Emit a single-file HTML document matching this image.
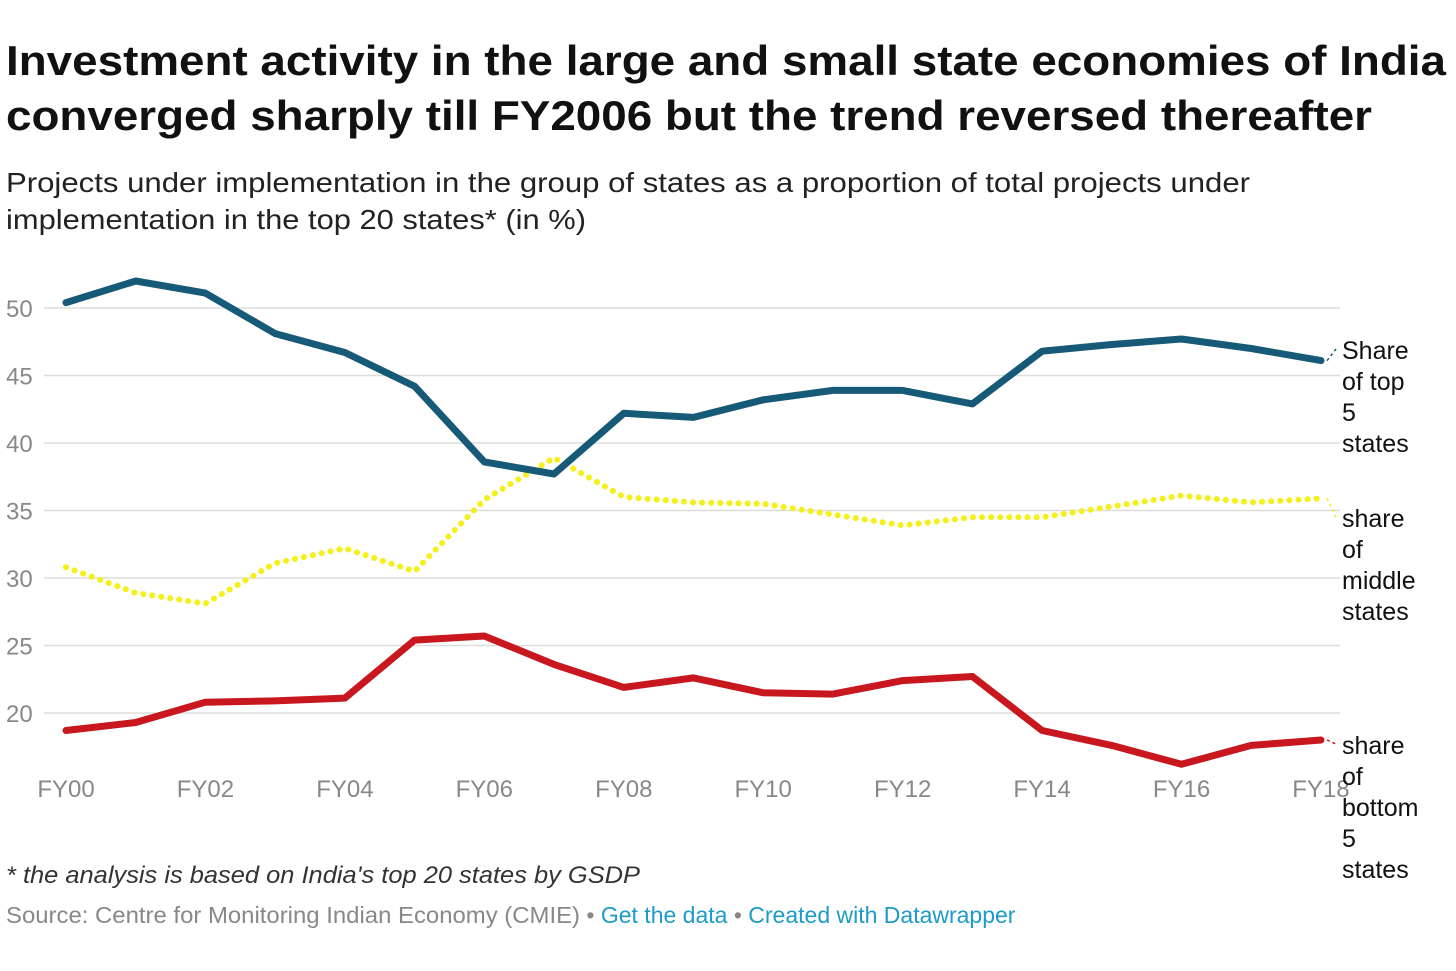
<!DOCTYPE html>
<html><head><meta charset="utf-8"><style>
body{margin:0;background:#fff;}
svg{display:block;font-family:"Liberation Sans",Arial,sans-serif;}
</style></head><body>
<svg id="chart" width="1456" height="971" viewBox="0 0 1456 971">
<text x="6" y="75" font-size="42" font-weight="bold" fill="#111" textLength="1440" lengthAdjust="spacingAndGlyphs">Investment activity in the large and small state economies of India</text>
<text x="6" y="130" font-size="42" font-weight="bold" fill="#111" textLength="1366" lengthAdjust="spacingAndGlyphs">converged sharply till FY2006 but the trend reversed thereafter</text>
<text x="6" y="192" font-size="28" fill="#222" textLength="1244" lengthAdjust="spacingAndGlyphs">Projects under implementation in the group of states as a proportion of total projects under</text>
<text x="6" y="229" font-size="28" fill="#222" textLength="580" lengthAdjust="spacingAndGlyphs">implementation in the top 20 states* (in %)</text>
<g id="grid"></g><g id="lines"></g><g id="labels"></g>
<text x="6" y="883" font-size="24" font-style="italic" fill="#333" textLength="634" lengthAdjust="spacingAndGlyphs">* the analysis is based on India's top 20 states by GSDP</text>
<text x="6" y="923" font-size="23" fill="#888"><tspan textLength="574" lengthAdjust="spacingAndGlyphs">Source: Centre for Monitoring Indian Economy (CMIE)</tspan><tspan> • </tspan><tspan fill="#1d9bc9">Get the data</tspan><tspan> • </tspan><tspan fill="#1d9bc9">Created with Datawrapper</tspan></text>
</svg>
<script>
const years = ["FY00","FY01","FY02","FY03","FY04","FY05","FY06","FY07","FY08","FY09","FY10","FY11","FY12","FY13","FY14","FY15","FY16","FY17","FY18"];
const topShare = [50.4,52.0,51.1,48.1,46.7,44.2,38.6,37.7,42.2,41.9,43.2,43.9,43.9,42.9,46.8,47.3,47.7,47.0,46.1];
const middleShare = [30.8,28.9,28.1,31.1,32.2,30.5,35.8,38.9,36.0,35.6,35.5,34.7,33.9,34.5,34.5,35.3,36.1,35.6,35.9];
const bottomShare = [18.7,19.3,20.8,20.9,21.1,25.4,25.7,23.6,21.9,22.6,21.5,21.4,22.4,22.7,18.7,17.6,16.2,17.6,18.0];
const yTicks = [20,25,30,35,40,45,50];
const xTickLabels = ["FY00","FY02","FY04","FY06","FY08","FY10","FY12","FY14","FY16","FY18"];
const NS="http://www.w3.org/2000/svg";
const X=i=>66+i*69.72;
const Y=v=>713-(v-20)*13.5;
function mk(t,a,p){const e=document.createElementNS(NS,t);for(const k in a)e.setAttribute(k,a[k]);p.appendChild(e);return e;}
const grid=document.getElementById('grid'),lines=document.getElementById('lines'),labels=document.getElementById('labels');
yTicks.forEach(v=>{
 const l=mk('line',{x1:44,x2:1340,y1:Y(v),y2:Y(v),stroke:'#ddd','stroke-width':1.5},grid);
 
 
 const t=mk('text',{x:6,y:Y(v)+9,'font-size':24,fill:'#888'},grid);t.textContent=v;
 
 
});
xTickLabels.forEach(lab=>{
 const i=years.indexOf(lab);
 const t=mk('text',{x:X(i),y:797,'font-size':24,fill:'#888','text-anchor':'middle'},grid);t.textContent=lab;
 
 
});
function series(vals,color,dash,name,lab){
 const d=vals.map((v,i)=>(i?'L':'M')+X(i).toFixed(1)+','+Y(v).toFixed(1)).join('');
 const a={d:d,fill:'none',stroke:color,'stroke-width':dash?6:7,'stroke-linejoin':'round','stroke-linecap':'round'};
 if(dash)a['stroke-dasharray']='0.1 9';
 const p=mk('path',a,lines);
 
 
 const ly=lab.y;
 const c=mk('line',{x1:X(18)+6,y1:Y(vals[18]),x2:1336,y2:ly[0]-10,stroke:color,'stroke-width':1.5,'stroke-dasharray':'3 3'},labels);
 
 
 lab.text.forEach((s,k)=>{const t=mk('text',{x:1342,y:ly[0]+k*31,'font-size':25,fill:'#111'},labels);t.textContent=s;
 
 });
}
series(middleShare,'#f5ef1a',true,'middle-states-line',{y:[527],text:['share','of','middle','states']});
series(bottomShare,'#c8171e',false,'bottom-states-line',{y:[754],text:['share','of','bottom','5','states']});
series(topShare,'#175a78',false,'top-states-line',{y:[359],text:['Share','of top','5','states']});
</script>
</body></html>
